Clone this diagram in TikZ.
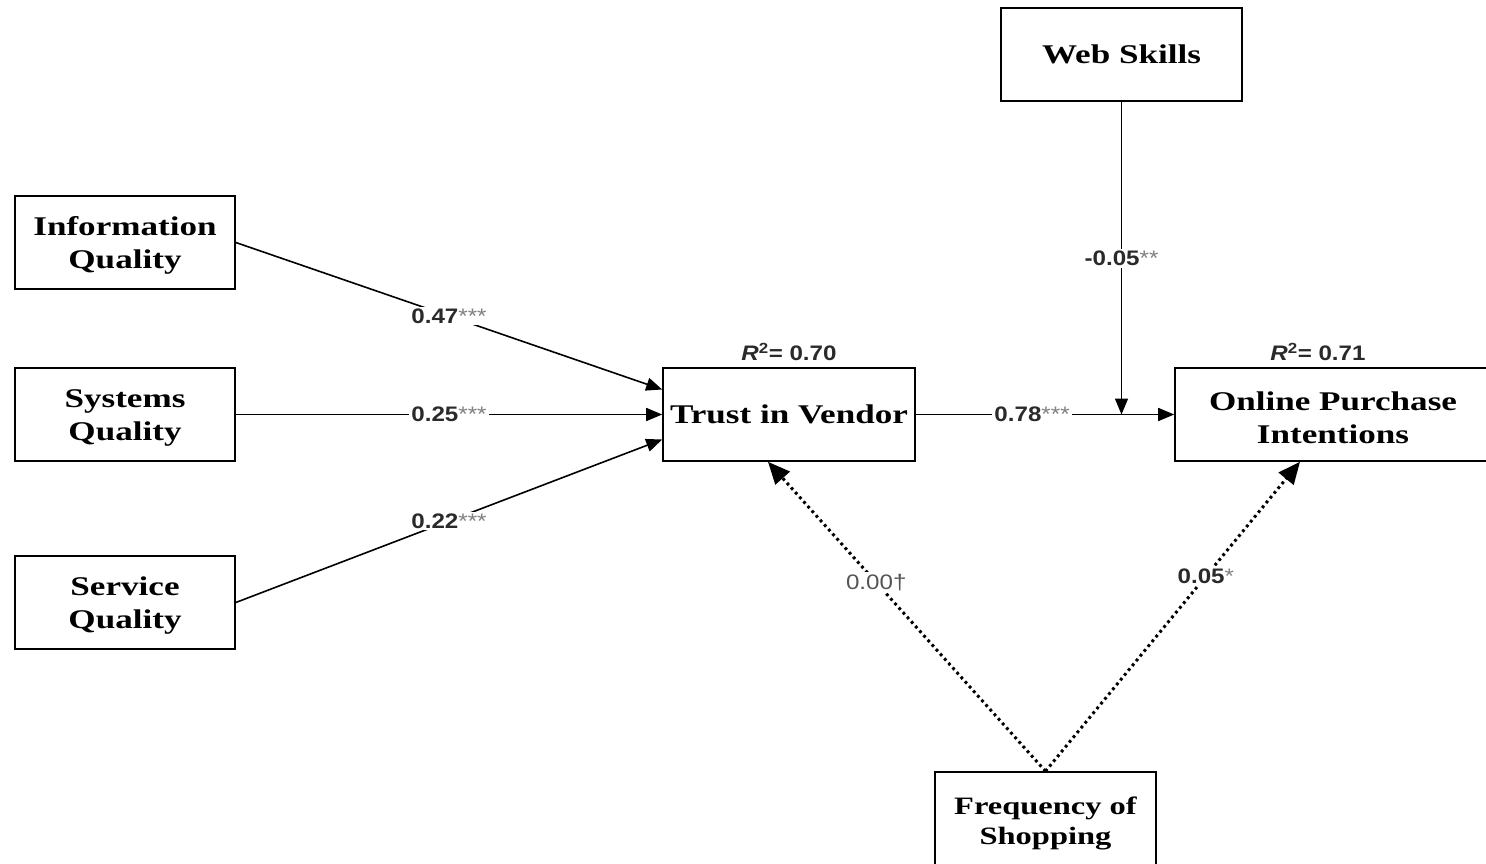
\documentclass[tikz,border=0pt]{standalone}
\usepackage{fontspec}
\setmainfont{Liberation Serif}
\newfontfamily\boxfont{Liberation Serif}[FakeStretch=1.3]
\newfontfamily\labfont{Liberation Sans}[FakeStretch=1.15]
\usetikzlibrary{arrows.meta}
\definecolor{labgray}{HTML}{2A2A2A}
\definecolor{lightlab}{HTML}{555555}
\definecolor{stargray}{HTML}{808080}
\newcommand{\sigstars}[1]{{\mdseries\color{stargray}#1}}
\begin{document}
\begin{tikzpicture}[x=1pt,y=-1pt,
  box/.style={draw, line width=1.6pt, minimum width=220pt, minimum height=93pt,
    inner sep=0pt, align=center,
    font=\boxfont\bfseries\fontsize{27}{33}\selectfont},
  lab/.style={fill=white, inner sep=2pt, font=\labfont\bfseries\fontsize{21}{24}\selectfont, text=labgray},
  lablight/.style={fill=white, inner sep=2pt, font=\labfont\fontsize{21}{24}\selectfont, text=lightlab},
  rlab/.style={font=\labfont\bfseries\fontsize{21}{24}\selectfont, text=labgray},
  conn/.style={line width=1.6pt, -{Triangle[length=16pt,width=13pt]}},
  dotconn/.style={line width=3pt, dash pattern=on 2.8pt off 3.4pt,
    -{Triangle[length=22pt,width=19pt]}}
]
\useasboundingbox (0,0) rectangle (1486,864);
\begin{scope}
\clip (0,0) rectangle (1486,864);
\node[box] (iq) at (125,242.5) {\rule{0pt}{25pt}Information\\Quality};
\node[box] (sq) at (125,414.5) {\rule{0pt}{25pt}Systems\\Quality};
\node[box] (svq) at (125,602.5) {\rule{0pt}{25pt}Service\\Quality};
\node[box, minimum width=252pt] (tv) at (789,414.5) {Trust in Vendor};
\node[box, minimum width=316pt] (opi) at (1333,414.5) {\rule{0pt}{25pt}Online Purchase\\Intentions};
\node[box, minimum width=241pt] (ws) at (1121.5,54.5) {Web Skills};
\node[box, minimum width=221pt, font=\boxfont\bfseries\fontsize{25}{30}\selectfont] (fs) at (1045.5,818.5) {\rule{0pt}{27pt}Frequency of\\Shopping};

\node[rlab] (r1) at (789,352) {\textit{R}\textsuperscript{2}= 0.70};
\node[rlab] (r2) at (1318,352) {\textit{R}\textsuperscript{2}= 0.71};

\draw[conn] (iq.east) -- node[lab]{0.47\sigstars{***}} ([yshift=25pt]tv.west);
\draw[conn] (sq.east) -- node[lab]{0.25\sigstars{***}} (tv.west);
\draw[conn] (svq.east) -- node[lab]{0.22\sigstars{***}} ([yshift=-25pt]tv.west);
\draw[conn] (tv.east) -- node[lab,pos=0.45]{0.78\sigstars{***}} (opi.west);
\coordinate (j) at (ws.south |- tv.east);
\draw[conn] (ws.south) -- node[lab]{-0.05\sigstars{**}} (j);
\draw[dotconn] (fs.north) -- node[lablight,pos=0.61]{0.00†} ([xshift=-21pt]tv.south);
\draw[dotconn] (fs.north) -- node[lab,pos=0.63]{0.05\sigstars{*}} ([xshift=-33pt]opi.south);
\end{scope}
\end{tikzpicture}
\end{document}
